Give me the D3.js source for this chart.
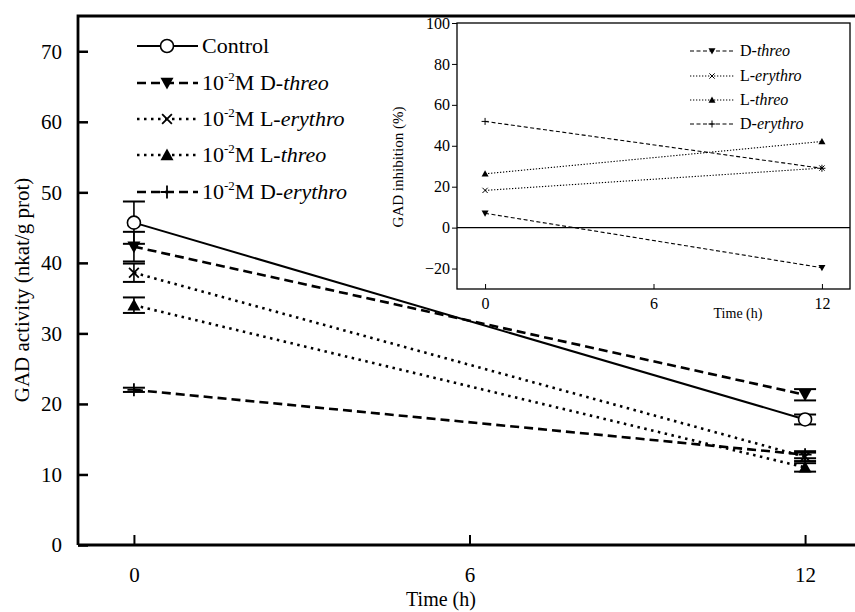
<!DOCTYPE html>
<html>
<head>
<meta charset="utf-8">
<script src="https://cdn.jsdelivr.net/npm/d3@7"></script>
<style>
  body { margin: 0; background: #fff; }
  svg text { font-family: "Liberation Serif", "Times New Roman", serif !important; }
</style>
</head>
<body>
<div id="chart"></div>
<script>
// main panel data: GAD activity (nkat/g prot)
const times = [0, 12];
const seriesNames = ["Control", "D-threo", "L-erythro", "L-threo", "D-erythro"];
const controlVals = [45.7, 17.8];
const controlErr = [3.0, 0.7];
const dThreoVals = [42.3, 21.3];
const dThreoErr = [2.1, 0.8];
const lErythroVals = [38.6, 12.5];
const lErythroErr = [1.3, 0.6];
const lThreoVals = [34.0, 11.0];
const lThreoErr = [1.1, 0.6];
const dErythroVals = [22.0, 12.8];
const dErythroErr = [0.3, 0.5];
const mainYTicks = [0, 10, 20, 30, 40, 50, 60, 70];
const xTicks = [0, 6, 12];

// inset data: GAD inhibition (%)
const insetNames = ["D-threo", "L-erythro", "L-threo", "D-erythro"];
const inhDThreo = [7.0, -19.6];
const inhLErythro = [18.2, 29.1];
const inhLThreo = [26.3, 42.1];
const inhDErythro = [51.9, 29.0];
const insetYTicks = [-20, 0, 20, 40, 60, 80, 100];

const W = 855, H = 612;
const svg = d3.select('#chart').append('svg')
  .attr('width', W).attr('height', H);

const x = d3.scaleLinear().domain([-1, 13]).range([78, 861]);
const y = d3.scaleLinear().domain([0, 75]).range([545, 16]);

const styles = {
  "Control":   { dash: null,  sym: 'circle' },
  "D-threo":   { dash: '9,5', sym: 'down' },
  "L-erythro": { dash: '2.5,4.5', sym: 'cross' },
  "L-threo":   { dash: '2.5,4.5', sym: 'up' },
  "D-erythro": { dash: '9,5', sym: 'plus' }
};

const mainSeries = [
  { name: "Control", vals: controlVals, err: controlErr },
  { name: "D-threo", vals: dThreoVals, err: dThreoErr },
  { name: "L-erythro", vals: lErythroVals, err: lErythroErr },
  { name: "L-threo", vals: lThreoVals, err: lThreoErr },
  { name: "D-erythro", vals: dErythroVals, err: dErythroErr }
];

function drawMarker(g, sym, cx, cy, s) {
  if (sym === 'circle') {
    g.append('circle').attr('cx', cx).attr('cy', cy).attr('r', s)
      .attr('fill', '#fff').attr('stroke', '#000').attr('stroke-width', 1.6);
  } else if (sym === 'down') {
    g.append('path').attr('d', `M${cx - s},${cy - s * 0.8}L${cx + s},${cy - s * 0.8}L${cx},${cy + s}Z`)
      .attr('fill', '#000');
  } else if (sym === 'up') {
    g.append('path').attr('d', `M${cx - s},${cy + s * 0.8}L${cx + s},${cy + s * 0.8}L${cx},${cy - s}Z`)
      .attr('fill', '#000');
  } else if (sym === 'cross') {
    const k = s * 0.75;
    g.append('path').attr('d', `M${cx - k},${cy - k}L${cx + k},${cy + k}M${cx - k},${cy + k}L${cx + k},${cy - k}`)
      .attr('stroke', '#000').attr('stroke-width', 1.8);
  } else if (sym === 'plus') {
    g.append('path').attr('d', `M${cx - s},${cy}L${cx + s},${cy}M${cx},${cy - s}L${cx},${cy + s}`)
      .attr('stroke', '#000').attr('stroke-width', 1.8);
  }
}

// main axes
const gy = svg.append('g').attr('transform', `translate(${x(-1)},0)`)
  .call(d3.axisLeft(y).tickValues(mainYTicks).tickSizeInner(-10).tickSizeOuter(0).tickPadding(16));
gy.select('.domain').remove();
gy.selectAll('line').attr('stroke-width', 2.5);
gy.selectAll('text').attr('font-size', 21);

const gx = svg.append('g').attr('transform', `translate(0,${y(0)})`)
  .call(d3.axisBottom(x).tickValues(xTicks).tickSizeInner(-10).tickSizeOuter(0).tickPadding(22));
gx.select('.domain').remove();
gx.selectAll('line').attr('stroke-width', 2);
gx.selectAll('text').attr('font-size', 21);

// frame
svg.append('path')
  .attr('d', `M${x(-1)},${y(0)}L${x(-1)},${y(75)}L${W + 5},${y(75)}`)
  .attr('fill', 'none').attr('stroke', '#000').attr('stroke-width', 2.8);
svg.append('line').attr('x1', x(-1)).attr('x2', W + 5).attr('y1', y(0)).attr('y2', y(0))
  .attr('stroke', '#000').attr('stroke-width', 2.8);

svg.append('text').attr('x', 441).attr('y', 606).attr('text-anchor', 'middle')
  .attr('font-size', 20).text('Time (h)');
svg.append('text').attr('transform', 'translate(29,290) rotate(-90)').attr('text-anchor', 'middle')
  .attr('font-size', 21).text('GAD activity (nkat/g prot)');

// main lines
const line = d3.line().x((d, i) => x(times[i])).y(d => y(d));
mainSeries.forEach(s => {
  const st = styles[s.name];
  svg.append('path').datum(s.vals).attr('d', line)
    .attr('fill', 'none').attr('stroke', '#000')
    .attr('stroke-width', s.name === 'Control' ? 2 : 2.6)
    .attr('stroke-dasharray', st.dash);
});
// error bars and markers
mainSeries.forEach(s => {
  const st = styles[s.name];
  const g = svg.append('g');
  s.vals.forEach((v, i) => {
    const cx = x(times[i]);
    const top = y(v + s.err[i]), bot = y(v - s.err[i]);
    g.append('line').attr('x1', cx).attr('x2', cx).attr('y1', top).attr('y2', bot)
      .attr('stroke', '#000').attr('stroke-width', 1.6);
    [top, bot].forEach(yy => g.append('line').attr('x1', cx - 11).attr('x2', cx + 11)
      .attr('y1', yy).attr('y2', yy).attr('stroke', '#000').attr('stroke-width', 2));
    drawMarker(g, st.sym, cx, y(v), 6.5);
  });
});

// main legend
const legY = [46, 83, 119, 155, 192];
const legText = [
  [['Control', 'n']],
  [['10', 'n'], ['-2', 's'], ['M D-', 'n'], ['threo', 'i']],
  [['10', 'n'], ['-2', 's'], ['M L-', 'n'], ['erythro', 'i']],
  [['10', 'n'], ['-2', 's'], ['M L-', 'n'], ['threo', 'i']],
  [['10', 'n'], ['-2', 's'], ['M D-', 'n'], ['erythro', 'i']]
];
seriesNames.forEach((name, i) => {
  const st = styles[name];
  const g = svg.append('g');
  g.append('line').attr('x1', 137).attr('x2', 198).attr('y1', legY[i]).attr('y2', legY[i])
    .attr('stroke', '#000').attr('stroke-width', name === 'Control' ? 2 : 2.6)
    .attr('stroke-dasharray', st.dash);
  drawMarker(g, st.sym, 167, legY[i], 6.5);
  const t = g.append('text').attr('x', 202).attr('y', legY[i] + 7).attr('font-size', 22);
  legText[i].forEach(([str, kind]) => {
    const ts = t.append('tspan').text(str);
    if (kind === 'i') ts.attr('font-style', 'italic');
    if (kind === 's') ts.attr('font-size', 13).attr('dy', -9);
    if (kind === 'n' && i > 0 && str.startsWith('M')) ts.attr('dy', 9);
  });
});

// inset
const ix = d3.scaleLinear().domain([-1, 13]).range([457, 850]);
const iy = d3.scaleLinear().domain([-30, 100]).range([289, 23]);
const inset = svg.append('g');
inset.append('rect').attr('x', ix(-1)).attr('y', iy(100))
  .attr('width', ix(13) - ix(-1)).attr('height', iy(-30) - iy(100))
  .attr('fill', '#fff').attr('stroke', '#000').attr('stroke-width', 1.3);

const iyAxis = inset.append('g').attr('transform', `translate(${ix(-1)},0)`)
  .call(d3.axisLeft(iy).tickValues(insetYTicks).tickSize(5).tickPadding(2));
iyAxis.select('.domain').remove();
iyAxis.selectAll('text').attr('font-size', 16);
const ixAxis = inset.append('g').attr('transform', `translate(0,${iy(-30)})`)
  .call(d3.axisBottom(ix).tickValues(xTicks).tickSizeInner(-5).tickSizeOuter(0).tickPadding(9));
ixAxis.select('.domain').remove();
ixAxis.selectAll('text').attr('font-size', 16);

inset.append('line').attr('x1', ix(-1)).attr('x2', ix(13)).attr('y1', iy(0)).attr('y2', iy(0))
  .attr('stroke', '#000').attr('stroke-width', 1.2);
inset.append('text').attr('x', 738).attr('y', 318).attr('text-anchor', 'middle')
  .attr('font-size', 14).text('Time (h)');
inset.append('text').attr('transform', 'translate(403,167) rotate(-90)').attr('text-anchor', 'middle')
  .attr('font-size', 15).text('GAD inhibition (%)');

const insetSeries = [
  { name: "D-threo", vals: inhDThreo, dash: '4,2.5', sym: 'down' },
  { name: "L-erythro", vals: inhLErythro, dash: '1.3,1.7', sym: 'cross' },
  { name: "L-threo", vals: inhLThreo, dash: '1.3,1.7', sym: 'up' },
  { name: "D-erythro", vals: inhDErythro, dash: '4,2.5', sym: 'plus' }
];
const iline = d3.line().x((d, i) => ix(times[i])).y(d => iy(d));
insetSeries.forEach(s => {
  inset.append('path').datum(s.vals).attr('d', iline)
    .attr('fill', 'none').attr('stroke', '#000').attr('stroke-width', 1.1)
    .attr('stroke-dasharray', s.dash);
  s.vals.forEach((v, i) => {
    const g = inset.append('g');
    drawMarker(g, s.sym, ix(times[i]), iy(v), 3.5);
    if (s.sym === 'cross' || s.sym === 'plus') g.selectAll('path').attr('stroke-width', 1);
  });
});

// inset legend
const ilegY = [51, 76, 100, 124];
insetSeries.forEach((s, i) => {
  const g = inset.append('g');
  g.append('line').attr('x1', 690).attr('x2', 735).attr('y1', ilegY[i]).attr('y2', ilegY[i])
    .attr('stroke', '#000').attr('stroke-width', 1.1).attr('stroke-dasharray', s.dash);
  drawMarker(g, s.sym, 712, ilegY[i], 3.5);
  if (s.sym === 'cross' || s.sym === 'plus') g.selectAll('path').attr('stroke-width', 1);
  const t = g.append('text').attr('x', 740).attr('y', ilegY[i] + 5).attr('font-size', 16);
  const [pre, rest] = [s.name.slice(0, 2), s.name.slice(2)];
  t.append('tspan').text(pre);
  t.append('tspan').attr('font-style', 'italic').text(rest);
});
</script>
</body>
</html>
